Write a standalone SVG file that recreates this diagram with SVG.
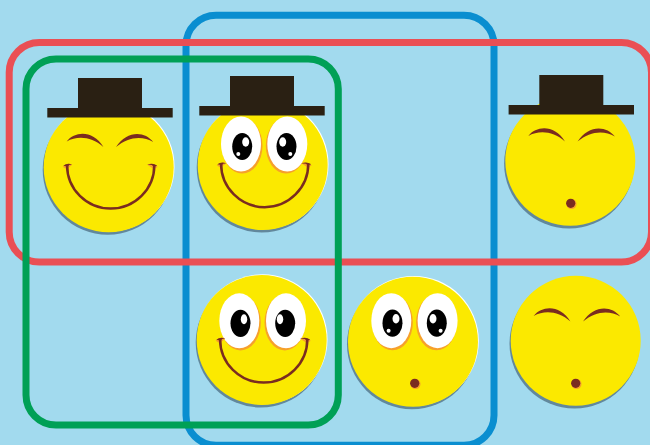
<svg xmlns="http://www.w3.org/2000/svg" width="650" height="445" viewBox="0 0 650 445">
<style>
.shadow{fill:#62889c}
.rim{fill:#ffffff}
.skin{fill:#fbe900}
.hat{fill:#2a2013}
.ink{fill:#7a2c20}
.line{fill:none;stroke:#7a2c20;stroke-width:2.500}
.glow{fill:#f6a02c}
.sclera{fill:#ffffff}
.pupil{fill:#000000}
.frame{fill:none;stroke-width:7}
</style>
<defs>
<g id="base">
<circle class="shadow" cx="-1.200" cy="2.800" r="65"/>
<circle class="skin" cx="0" cy="0" r="65"/>
</g>
<g id="base-rim">
<circle class="shadow" cx="-1" cy="2.500" r="65"/>
<circle class="rim" cx="0.800" cy="-0.800" r="65"/>
<circle class="skin" cx="0" cy="0" r="65"/>
</g>
<g id="hat">
<rect class="hat" x="-32" y="-89.500" width="64" height="31"/>
<rect class="hat" x="-62.700" y="-59.500" width="125.400" height="9.500"/>
</g>
<g id="eye-left">
<ellipse class="glow" cx="1.200" cy="1.800" rx="20.300" ry="27.800"/>
<ellipse class="sclera" cx="0" cy="0" rx="20" ry="27.500"/>
<ellipse class="pupil" cx="1.200" cy="2.500" rx="10" ry="13.600"/>
</g>
<g id="eye-right">
<ellipse class="glow" cx="-1.200" cy="1.800" rx="20.300" ry="27.800"/>
<ellipse class="sclera" cx="0" cy="0" rx="20" ry="27.500"/>
<ellipse class="pupil" cx="-0.800" cy="2.500" rx="10" ry="13.600"/>
</g>
<g id="eyes-sparkle">
<use href="#eye-left" x="-21.700" y="-21"/>
<use href="#eye-right" x="24.600" y="-21"/>
<ellipse class="sclera" cx="-17" cy="-23" rx="3.500" ry="4.700"/>
<circle class="sclera" cx="-24.400" cy="-11" r="2"/>
<ellipse class="sclera" cx="20" cy="-23" rx="3.500" ry="4.700"/>
<circle class="sclera" cx="27.600" cy="-11" r="2"/>
</g>
<g id="smile">
<path class="glow" d="M-46 -0.500Q-41.500 -5 -36.500 -2.500L-42 2ZM49 -0.500Q44 -5 38.500 -2.500L45.500 2Z"/>
<path class="ink" d="M-45.400 -1.500Q-41 -4.800 -36.400 -2.300Q-40 -2.800 -40.400 -1L-42.800 -1ZM48.600 -1.500Q44 -4.800 38.600 -2.300Q43.500 -2.800 44.400 -1L46.800 -1Z"/>
<path class="line" d="M-41.600 -2A43.500 43.300 0 0 0 45.600 -2"/>
</g>
<path id="brows" class="ink" d="M-42 -25.800C-33.400 -36.500 -15.400 -37 -5.300 -20.200C-17.400 -31 -31.400 -31.500 -42 -25.800ZM7.300 -20.200C18 -37 36 -36.500 44.600 -25.200C34 -31.500 20 -31 7.300 -20.200Z"/>
<g id="mouth-o">
<circle class="glow" cx="0.800" cy="0.800" r="5"/>
<circle class="ink" cx="0" cy="0" r="4.600"/>
</g>
</defs>
<rect id="background" width="650" height="445" fill="#a2daee"/>

<g id="face-top-left" transform="translate(108.700 167.200)">
<use href="#base-rim"/><use href="#brows"/><use href="#smile"/><use href="#hat" x="1.300" y="0.300"/>
</g>
<g id="face-top-middle" transform="translate(262.700 165)">
<use href="#base-rim"/><use href="#eyes-sparkle"/><use href="#smile" y="0.800"/><use href="#hat" x="-0.700" y="0.500"/>
</g>
<g id="face-top-right" transform="translate(570.300 160.700)">
<use href="#base"/><use href="#brows" y="1"/><use href="#mouth-o" x="0.400" y="42.600"/><use href="#hat" x="1" y="3.800"/>
</g>
<g id="face-bottom-left" transform="translate(261.700 340)">
<use href="#base-rim"/>
<use href="#eye-left" x="-22.400" y="-19.200"/>
<use href="#eye-right" x="24.300" y="-19.200"/>
<ellipse class="sclera" cx="-17.700" cy="-20.700" rx="3.200" ry="5"/>
<ellipse class="sclera" cx="18.300" cy="-20.700" rx="3.200" ry="5"/>
<use href="#smile" y="1.200"/>
</g>
<g id="face-bottom-middle" transform="translate(413 341.700)">
<use href="#base-rim"/><use href="#eyes-sparkle"/><use href="#mouth-o" x="1.700" y="41.600"/>
</g>
<g id="face-bottom-right" transform="translate(575.700 340.700)">
<use href="#base"/><use href="#brows" y="1"/><use href="#mouth-o" y="42.600"/>
</g>

<g id="connectors">
<rect class="frame" x="186" y="15.300" width="308" height="430" rx="30" stroke="#0a8ed0"/>
<rect class="frame" x="9.200" y="42.500" width="642.300" height="219.500" rx="30" stroke="#ea4f54"/>
<rect class="frame" x="26" y="59" width="312.300" height="366" rx="30" stroke="#00a056"/>
</g>
</svg>
